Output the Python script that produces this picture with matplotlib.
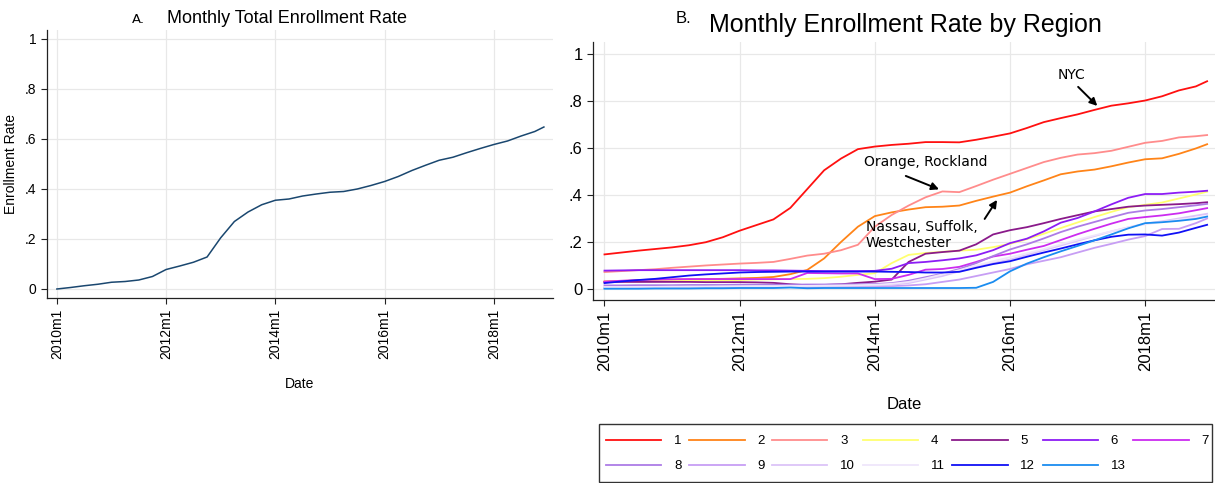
import matplotlib
matplotlib.use("Agg")
import matplotlib.pyplot as plt
from matplotlib.patches import Rectangle

plt.rcParams["font.family"] = ["Liberation Sans", "DejaVu Sans"]

# ------------------------------------------------------------
# data: quarterly readings (months since 2010m1), last point = 2018m12
# ------------------------------------------------------------
meses = list(range(0, 108, 3)) + [107]

total = [0.000, 0.006, 0.013, 0.019, 0.027, 0.030, 0.036, 0.050, 0.078, 0.092,
         0.107, 0.128, 0.205, 0.270, 0.308, 0.337, 0.355, 0.360, 0.372, 0.380,
         0.387, 0.390, 0.400, 0.414, 0.430, 0.450, 0.474, 0.495, 0.515, 0.527,
         0.545, 0.562, 0.578, 0.592, 0.612, 0.630, 0.648]

r1 = [0.147, 0.155, 0.163, 0.170, 0.177, 0.186, 0.199, 0.220, 0.248, 0.272,
      0.296, 0.345, 0.425, 0.505, 0.555, 0.595, 0.606, 0.613, 0.618, 0.625,
      0.625, 0.624, 0.635, 0.648, 0.662, 0.685, 0.710, 0.727, 0.743, 0.762,
      0.780, 0.790, 0.802, 0.820, 0.845, 0.862, 0.884]
r2 = [0.032, 0.034, 0.036, 0.038, 0.040, 0.041, 0.042, 0.043, 0.045, 0.047,
      0.051, 0.063, 0.081, 0.130, 0.200, 0.265, 0.310, 0.326, 0.338, 0.348,
      0.350, 0.355, 0.375, 0.393, 0.410, 0.437, 0.462, 0.488, 0.500, 0.508,
      0.522, 0.538, 0.552, 0.556, 0.575, 0.598, 0.616]
r3 = [0.072, 0.076, 0.080, 0.084, 0.090, 0.095, 0.100, 0.104, 0.108, 0.111,
      0.115, 0.128, 0.142, 0.150, 0.165, 0.188, 0.265, 0.315, 0.355, 0.390,
      0.415, 0.412, 0.438, 0.465, 0.490, 0.515, 0.540, 0.558, 0.572, 0.578,
      0.588, 0.605, 0.622, 0.630, 0.645, 0.650, 0.655]
r4 = [0.030, 0.031, 0.032, 0.033, 0.034, 0.035, 0.036, 0.037, 0.038, 0.040,
      0.041, 0.042, 0.043, 0.046, 0.052, 0.060, 0.067, 0.110, 0.145, 0.153,
      0.158, 0.163, 0.167, 0.178, 0.192, 0.212, 0.235, 0.259, 0.283, 0.306,
      0.328, 0.348, 0.358, 0.368, 0.385, 0.402, 0.414]
r5 = [0.030, 0.030, 0.030, 0.030, 0.030, 0.030, 0.029, 0.029, 0.029, 0.028,
      0.026, 0.020, 0.016, 0.017, 0.020, 0.026, 0.031, 0.040, 0.115, 0.150,
      0.157, 0.163, 0.190, 0.232, 0.250, 0.263, 0.280, 0.298, 0.314, 0.330,
      0.340, 0.350, 0.355, 0.358, 0.361, 0.365, 0.369]
r6 = [0.078, 0.079, 0.080, 0.080, 0.080, 0.080, 0.080, 0.080, 0.080, 0.079,
      0.079, 0.078, 0.077, 0.076, 0.076, 0.076, 0.077, 0.086, 0.110, 0.115,
      0.122, 0.130, 0.143, 0.165, 0.195, 0.214, 0.245, 0.282, 0.302, 0.330,
      0.360, 0.388, 0.404, 0.404, 0.410, 0.414, 0.418]
r7 = [0.031, 0.035, 0.038, 0.040, 0.041, 0.042, 0.042, 0.042, 0.042, 0.042,
      0.042, 0.042, 0.068, 0.067, 0.066, 0.066, 0.042, 0.043, 0.060, 0.082,
      0.085, 0.094, 0.115, 0.138, 0.150, 0.167, 0.183, 0.208, 0.233, 0.256,
      0.278, 0.298, 0.306, 0.313, 0.322, 0.335, 0.344]
r8 = [0.015, 0.015, 0.016, 0.016, 0.016, 0.017, 0.017, 0.017, 0.018, 0.018,
      0.018, 0.018, 0.019, 0.019, 0.020, 0.020, 0.021, 0.025, 0.035, 0.050,
      0.065, 0.085, 0.110, 0.140, 0.168, 0.190, 0.215, 0.242, 0.265, 0.285,
      0.305, 0.324, 0.334, 0.340, 0.348, 0.356, 0.362]
r9 = [0.004, 0.004, 0.005, 0.005, 0.005, 0.006, 0.006, 0.006, 0.007, 0.007,
      0.007, 0.008, 0.008, 0.008, 0.009, 0.009, 0.010, 0.012, 0.015, 0.020,
      0.030, 0.040, 0.055, 0.070, 0.085, 0.105, 0.120, 0.135, 0.155, 0.175,
      0.192, 0.210, 0.225, 0.255, 0.256, 0.280, 0.300]
r10 = [0.006, 0.006, 0.007, 0.007, 0.008, 0.008, 0.009, 0.009, 0.010, 0.010,
       0.011, 0.011, 0.012, 0.012, 0.013, 0.014, 0.015, 0.018, 0.025, 0.040,
       0.055, 0.075, 0.095, 0.110, 0.125, 0.145, 0.165, 0.185, 0.205, 0.225,
       0.245, 0.262, 0.278, 0.288, 0.300, 0.312, 0.320]
r11 = [0.008, 0.008, 0.009, 0.009, 0.010, 0.010, 0.010, 0.011, 0.011, 0.012,
       0.012, 0.013, 0.013, 0.014, 0.015, 0.016, 0.018, 0.022, 0.030, 0.045,
       0.062, 0.080, 0.100, 0.118, 0.135, 0.152, 0.170, 0.190, 0.210, 0.228,
       0.245, 0.262, 0.275, 0.285, 0.295, 0.303, 0.310]
r12 = [0.025, 0.032, 0.038, 0.043, 0.050, 0.057, 0.062, 0.066, 0.070, 0.072,
       0.073, 0.074, 0.074, 0.074, 0.074, 0.074, 0.074, 0.073, 0.072, 0.070,
       0.070, 0.073, 0.090, 0.106, 0.118, 0.137, 0.155, 0.172, 0.190, 0.207,
       0.222, 0.231, 0.232, 0.227, 0.240, 0.260, 0.273]
r13 = [0.001, 0.001, 0.001, 0.002, 0.002, 0.002, 0.003, 0.003, 0.004, 0.004,
       0.004, 0.006, 0.003, 0.004, 0.004, 0.004, 0.004, 0.004, 0.004, 0.004,
       0.004, 0.004, 0.005, 0.030, 0.075, 0.108, 0.135, 0.160, 0.183, 0.207,
       0.232, 0.258, 0.280, 0.284, 0.290, 0.298, 0.308]

regiones = [r1, r2, r3, r4, r5, r6, r7, r8, r9, r10, r11, r12, r13]
etiquetas = [str(i) for i in range(1, 14)]
colores = ["#ff1010", "#ff8418", "#ff8c8c", "#ffff70", "#8a1a8a", "#8c1cf5",
           "#cc2cf0", "#ad7ce6", "#c79ef4", "#dcc4f8", "#efe6fb", "#1010f5",
           "#1a8cf0"]

ticks_x = [0, 24, 48, 72, 96]
ticks_x_txt = ["2010m1", "2012m1", "2014m1", "2016m1", "2018m1"]
ticks_y = [0, 0.2, 0.4, 0.6, 0.8, 1]
ticks_y_txt = ["0", ".2", ".4", ".6", ".8", "1"]


def estilo(ax, tam):
    ax.set_xticks(ticks_x)
    ax.set_xticklabels(ticks_x_txt, rotation=90, fontsize=tam)
    ax.set_yticks(ticks_y)
    ax.set_yticklabels(ticks_y_txt, fontsize=tam)
    ax.grid(True, color="#e8e8e8", linewidth=0.9)
    ax.set_axisbelow(True)
    for lado in ["top", "right"]:
        ax.spines[lado].set_visible(False)
    for lado in ["left", "bottom"]:
        ax.spines[lado].set_color("#222222")
        ax.spines[lado].set_linewidth(0.9)
    ax.tick_params(length=4, width=0.8, color="#222222")


fig = plt.figure(figsize=(12.15, 4.83), dpi=100)

# ------------------------------------------------------------
# panel A
# ------------------------------------------------------------
ax1 = fig.add_axes([47 / 1215, 1 - 298 / 483, 506 / 1215, 268 / 483])
ax1.plot(meses, total, color="#1a476f", linewidth=1.1)
estilo(ax1, 10)
ax1.set_xlim(-2.17, 109.0)
ax1.set_ylim(-0.036, 1.036)
ax1.set_xlabel("Date", fontsize=10)
ax1.xaxis.set_label_coords(0.5, -0.295)
ax1.set_ylabel("Enrollment Rate", fontsize=10)
ax1.yaxis.set_label_coords(-0.058, 0.5)

fig.text(132 / 1215, 1 - 22.7 / 483, "A.", fontsize=9.5, family="DejaVu Sans",
         va="baseline", ha="left")
fig.text(287 / 1215, 1 - 22.7 / 483, "Monthly Total Enrollment Rate",
         fontsize=13, va="baseline", ha="center")

# ------------------------------------------------------------
# panel B
# ------------------------------------------------------------
ax2 = fig.add_axes([593 / 1215, 1 - 300 / 483, 622 / 1215, 258 / 483])
lineas = []
for serie, color in zip(regiones, colores):
    ln, = ax2.plot(meses, serie, color=color, linewidth=1.3)
    lineas.append(ln)
estilo(ax2, 12)
ax2.set_xlim(-2.04, 108.4)
ax2.set_ylim(-0.047, 1.051)
ax2.set_xlabel("Date", fontsize=12)
ax2.xaxis.set_label_coords(0.5, -0.375)

fig.text(676 / 1215, 1 - 23.3 / 483, "B.", fontsize=12, va="baseline", ha="left")
fig.text(905 / 1215, 1 - 32.3 / 483, "Monthly Enrollment Rate by Region",
         fontsize=18, va="baseline", ha="center")

flecha = dict(arrowstyle="-|>", color="black", lw=1.4, mutation_scale=11,
              shrinkA=0, shrinkB=0)
ax2.text(83.0, 0.911, "NYC", family="DejaVu Sans", fontsize=10,
         ha="center", va="center")
ax2.annotate("", xy=(87.5, 0.779), xytext=(84.1, 0.860), arrowprops=flecha)
ax2.text(57.0, 0.540, "Orange, Rockland", family="DejaVu Sans", fontsize=10,
         ha="center", va="center")
ax2.annotate("", xy=(59.4, 0.424), xytext=(53.5, 0.481), arrowprops=flecha)
ax2.text(46.4, 0.294, "Nassau, Suffolk,\nWestchester", family="DejaVu Sans",
         fontsize=10, ha="left", va="top", linespacing=1.15)
ax2.annotate("", xy=(69.7, 0.379), xytext=(67.5, 0.298), arrowprops=flecha)

# legend in row order (matplotlib fills columns first), box drawn apart
orden = [0, 7, 1, 8, 2, 9, 3, 10, 4, 11, 5, 12, 6]
fig.legend([lineas[i] for i in orden], [etiquetas[i] for i in orden],
           ncol=7, loc="upper left",
           bbox_to_anchor=(606 / 1215, 1 - 435 / 483),
           bbox_transform=fig.transFigure, fontsize=9.5,
           handlelength=4.2, handletextpad=0.95, columnspacing=0.58,
           borderpad=0, labelspacing=0.98, borderaxespad=0,
           frameon=False)
fig.patches.append(Rectangle((599 / 1215, 1 - 482 / 483), 613 / 1215, 58 / 483,
                             transform=fig.transFigure, fill=False,
                             edgecolor="#333333", linewidth=1.0))

fig.savefig("out.png", dpi=100)
